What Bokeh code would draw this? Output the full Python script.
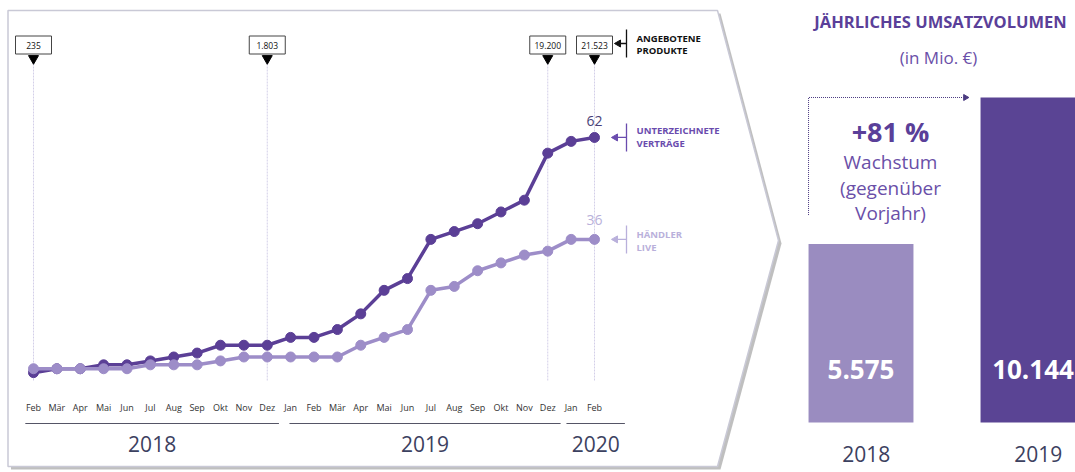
import math
from bokeh.plotting import figure
from bokeh.models import Range1d
from bokeh.core.properties import value
from bokeh.embed import file_html
from bokeh.resources import INLINE

# ---------------- data ----------------
months = ["Feb", "Mär", "Apr", "Mai", "Jun", "Jul", "Aug", "Sep", "Okt", "Nov", "Dez",
          "Jan", "Feb", "Mär", "Apr", "Mai", "Jun", "Jul", "Aug", "Sep", "Okt", "Nov", "Dez",
          "Jan", "Feb"]
years = ["2018", "2019", "2020"]
year_first_idx = [0, 11, 23]
year_last_idx = [10, 22, 24]
vertraege = [2, 3, 3, 4, 4, 5, 6, 7, 9, 9, 9, 11, 11, 13, 17, 23, 26, 36, 38, 40, 43, 46, 58, 61, 62]
haendler = [3, 3, 3, 3, 3, 4, 4, 4, 5, 6, 6, 6, 6, 6, 9, 11, 13, 23, 24, 28, 30, 32, 33, 36, 36]
produkte_idx = [0, 10, 22, 24]
produkte_labels = ["235", "1.803", "19.200", "21.523"]
umsatz_years = ["2018", "2019"]
umsatz = [5575, 10144]
umsatz_labels = ["5.575", "10.144"]
wachstum = "+81 %"
wachstum_text = ["Wachstum", "(gegenüber", "Vorjahr)"]

# ---------------- styles ----------------
DARK = "#5b3f96"
LIGHT = "#9d8dc8"
BAR_LIGHT = "#9a8cc0"
BAR_DARK = "#5a4494"
TXT = "#3c4160"
F = value("Open Sans")

W, H = 1075, 472
p = figure(width=W, height=H, x_range=Range1d(0, W), y_range=Range1d(H, 0),
           output_backend="svg", toolbar_location=None, min_border=0,
           outline_line_color=None, x_axis_location=None, y_axis_location=None)
p.grid.visible = False
p.background_fill_color = "white"

# scales of the data parts (pixel layout -> data)
MX0, MDX = 33.0, 23.375          # month index
CY0, CDY = 380.0, 3.92           # counts
BX0, BDX = 860.5, 172.0          # bar index
BY0, BDY = 422.0, 0.03204        # revenue
p.extra_x_ranges = {
    "m": Range1d((0 - MX0) / MDX, (W - MX0) / MDX),
    "b": Range1d((0 - BX0) / BDX, (W - BX0) / BDX),
}
p.extra_y_ranges = {
    "c": Range1d((CY0 - H) / CDY, (CY0 - 0) / CDY),
    "bv": Range1d((BY0 - H) / BDY, (BY0 - 0) / BDY),
}

# ---------------- frame (arrow-shaped panel) ----------------
fx = [7.5, 717, 778, 717, 7.5]
fy = [10, 10, 240, 466, 466]
p.patch([x + 3 for x in fx], [y + 3 for y in fy], fill_color="#8a8a8a", fill_alpha=0.55,
        line_color=None)
p.patch(fx, fy, fill_color="white", line_color="#c9c9d6", line_width=1.5)

# ---------------- line chart ----------------
n = len(months)
idx = list(range(n))

# vertical dotted guides + product boxes
p.segment(x0=produkte_idx, y0=[63] * 4, x1=produkte_idx, y1=[380] * 4,
          x_range_name="m", line_color="#d3cfe8", line_width=1, line_dash="2 1")
p.rect(x=produkte_idx, y=[44.5] * 4, width=36, height=18, width_units="screen",
       height_units="screen", x_range_name="m", fill_color="white",
       line_color="#444444", line_width=1)
p.text(x=produkte_idx, y=[45] * 4, text=produkte_labels, x_range_name="m",
       text_font=F, text_font_size="8.5px", text_color="#111111",
       text_align="center", text_baseline="middle")
p.scatter(x=produkte_idx, y=[58] * 4, marker="inverted_triangle", size=10,
          x_range_name="m", fill_color="black", line_color="black")

# series
p.line(idx, vertraege, x_range_name="m", y_range_name="c", line_color=DARK, line_width=3.5)
p.scatter(idx, vertraege, x_range_name="m", y_range_name="c", size=10,
          fill_color=DARK, line_color=DARK)
p.line(idx, haendler, x_range_name="m", y_range_name="c", line_color=LIGHT, line_width=3.5)
p.scatter(idx, haendler, x_range_name="m", y_range_name="c", size=10,
          fill_color=LIGHT, line_color=LIGHT)

# end values
p.text(x=[n - 1, n - 1], y=[vertraege[-1] + 4.1, haendler[-1] + 4.9],
       text=[str(vertraege[-1]), str(haendler[-1])], x_range_name="m", y_range_name="c",
       text_font=F, text_font_size="14px", text_color=["#4a3f78", "#b9b1da"],
       text_align="center", text_baseline="middle")

# month labels
p.text(x=idx, y=[407] * n, text=months, x_range_name="m", text_font=F,
       text_font_size="9px", text_color="#333333", text_align="center",
       text_baseline="middle")

# year spans
pad_l = [0.35, 0.05, 0.2]
pad_r = [0.5, 0.55, 1.3]
ys0 = [a - l for a, l in zip(year_first_idx, pad_l)]
ys1 = [b + r for b, r in zip(year_last_idx, pad_r)]
p.segment(x0=ys0, y0=[423] * 3, x1=ys1, y1=[423] * 3, x_range_name="m",
          line_color="#555566", line_width=1.2)
p.text(x=[(a + b) / 2 for a, b in zip(ys0, ys1)], y=[443] * 3, text=years,
       x_range_name="m", text_font=F, text_font_size="21px", text_color=TXT,
       text_align="center", text_baseline="middle")

# right-side legend labels with brackets
def bracket(yc_px, color, arrow_to):
    p.segment(x0=[626], y0=[yc_px - 14], x1=[626], y1=[yc_px + 14], line_color=color, line_width=1.3)
    p.segment(x0=[arrow_to + 3], y0=[yc_px], x1=[626], y1=[yc_px], line_color=color, line_width=1.3)
    p.scatter(x=[arrow_to + 3], y=[yc_px], marker="triangle", angle=math.pi / 2, size=7,
              fill_color=color, line_color=color)

bracket(43, "#111111", 615)
p.text(x=[636, 636], y=[38, 50], text=["ANGEBOTENE", "PRODUKTE"], text_font=F,
       text_font_size="9.5px", text_font_style="bold", text_color="#111111",
       text_baseline="middle")

yv = CY0 - vertraege[-1] * CDY
yh = CY0 - haendler[-1] * CDY
bracket(yv, "#6a4cae", 612)
p.text(x=[636, 636], y=[yv - 7, yv + 6], text=["UNTERZEICHNETE", "VERTRÄGE"], text_font=F,
       text_font_size="9.5px", text_font_style="bold", text_color="#6a4cae",
       text_baseline="middle")
bracket(yh, "#b9b0db", 612)
p.text(x=[636, 636], y=[yh - 5, yh + 8], text=["HÄNDLER", "LIVE"], text_font=F,
       text_font_size="9.5px", text_font_style="bold", text_color="#b9b0db",
       text_baseline="middle")

# ---------------- revenue bars ----------------
p.text(x=[940], y=[21], text=["JÄHRLICHES UMSATZVOLUMEN"], text_font=F,
       text_font_size="16.5px", text_font_style="bold", text_color="#5a3f99",
       text_align="center", text_baseline="middle")
p.text(x=[938], y=[57], text=["(in Mio. €)"], text_font=F, text_font_size="17px",
       text_color="#6a4fa8", text_align="center", text_baseline="middle")

bidx = list(range(len(umsatz)))
p.vbar(x=bidx, top=umsatz, bottom=0, width=0.61, x_range_name="b", y_range_name="bv",
       fill_color=[BAR_LIGHT, BAR_DARK], line_color=None)
p.text(x=bidx, y=[369] * 2, text=umsatz_labels, x_range_name="b", text_font=F,
       text_font_size="26px", text_font_style="bold", text_color="white",
       text_align="center", text_baseline="middle")
p.text(x=[b + 0.03 for b in bidx], y=[453] * 2, text=umsatz_years, x_range_name="b",
       text_font=F, text_font_size="21px", text_color=TXT, text_align="center",
       text_baseline="middle")

# growth arrow
left = -0.305
p.line(x=[left, left, 1 - 0.305 - 0.1], y=[umsatz[0] + 900, umsatz[1], umsatz[1]],
       x_range_name="b", y_range_name="bv", line_color="#4a3a80", line_width=1,
       line_dash="1 1")
p.scatter(x=[1 - 0.305 - 0.1 + 0.012], y=[umsatz[1]], x_range_name="b", y_range_name="bv",
          marker="triangle", angle=-math.pi / 2, size=6, fill_color="#4a3a80",
          line_color="#4a3a80")
p.text(x=[890], y=[131], text=[wachstum], text_font=F, text_font_size="27px",
       text_font_style="bold", text_color="#5a3f99", text_align="center",
       text_baseline="middle")
p.text(x=[890] * 3, y=[161, 187, 212], text=wachstum_text, text_font=F,
       text_font_size="19px", text_color="#6a4fa8", text_align="center",
       text_baseline="middle")

open("out.html", "w").write(file_html(p, INLINE))
